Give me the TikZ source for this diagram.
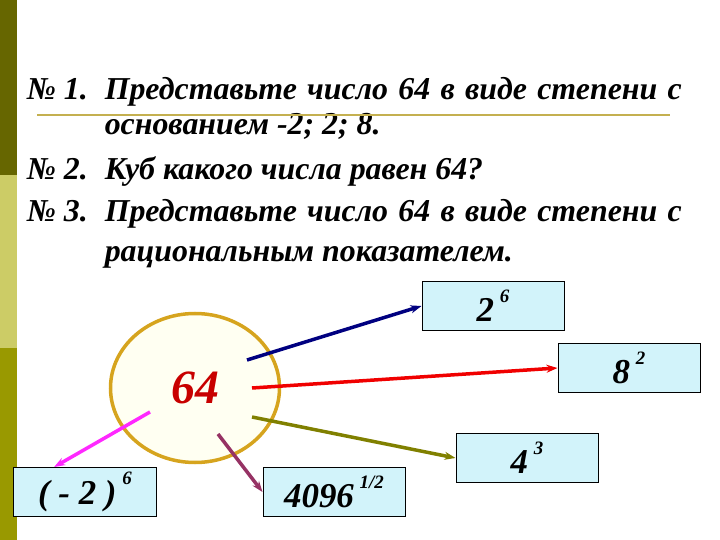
\documentclass[tikz,border=0pt]{standalone}
\usepackage{fontspec}
\setmainfont{Liberation Serif}
\usetikzlibrary{arrows.meta, shapes.geometric}

\definecolor{barDark}{RGB}{102,102,0}
\definecolor{barLight}{RGB}{204,204,102}
\definecolor{barMid}{RGB}{153,153,0}
\definecolor{ruleGold}{RGB}{196,176,80}
\definecolor{boxFill}{RGB}{210,243,250}
\definecolor{ringGold}{RGB}{214,164,30}
\definecolor{ringFill}{RGB}{255,255,242}
\definecolor{numRed}{RGB}{200,0,0}
\definecolor{arrNavy}{RGB}{0,0,128}
\definecolor{arrRed}{RGB}{240,0,0}
\definecolor{arrOlive}{RGB}{128,128,0}
\definecolor{arrPink}{RGB}{255,40,255}
\definecolor{arrPlum}{RGB}{150,50,100}

\newcommand{\pw}[2]{#1\,\raisebox{0.55em}{\fontsize{19}{19}\selectfont #2}}

\begin{document}
\begin{tikzpicture}[
            x = 1bp, y = -1bp, % pixel grid, y runs down
            > = {Stealth[length=11bp, width=8bp]}, % arrow head style
            line width = 3.5bp
        ]

        \tikzstyle{task}=[
            anchor = base west,
            inner sep = 0pt,
            font = \fontsize{32}{32}\selectfont\bfseries\itshape
        ]
        \tikzstyle{numbox}=[
            draw = black,
            line width = 1bp,
            fill = boxFill,
            minimum width = 142bp,
            minimum height = 49bp,
            inner sep = 0pt,
            font = \fontsize{35}{35}\selectfont\bfseries\itshape
        ]

        \useasboundingbox (0,0) rectangle (720,540);

        % left stripe
        \fill[barDark] (0,0) rectangle (17,175);
        \fill[barLight] (0,175) rectangle (17,348);
        \fill[barMid] (0,348) rectangle (17,540);

        % tasks
        \node[task] (n1) at (25,100) {№ 1.};
        \node[task] (t1) at (103,100) {\makebox[577bp][s]{Представьте число 64 в виде степени с}};
        \node[task] (t1b) at (103,135) {основанием -2; 2; 8.};
        \node[task] (n2) at (25,180) {№ 2.};
        \node[task] (t2) at (103,180) {Куб какого числа равен 64?};
        \node[task] (n3) at (25,222) {№ 3.};
        \node[task] (t3) at (103,222) {\makebox[577bp][s]{Представьте число 64 в виде степени с}};
        \node[task] (t3b) at (103,262) {рациональным показателем.};
        \draw[ruleGold, line width=2bp] (37,115) -- (670,115);

        % the number and its powers
        \node[ellipse, draw=ringGold, line width=3.5bp, fill=ringFill,
              minimum width=169bp, minimum height=149bp, inner sep=0pt,
              text=numRed, font=\fontsize{48}{48}\selectfont\bfseries\itshape]
              (n64) at (195,388) {64};

        \node[numbox] (b26) at (493,306) {\pw{2}{6}};
        \node[numbox] (b82) at (629,368) {\pw{8}{2}};
        \node[numbox] (b43) at (527,458) {\pw{4}{3}};
        \node[numbox] (b4096) at (334,492) {\pw{4096}{1/2}};
        \node[numbox] (bm26) at (85,492) {\pw{( - 2 )}{6}};

        \coordinate (s26) at (247,360);
        \coordinate (s82) at (252,388);
        \coordinate (s43) at (252,417);
        \coordinate (sm26) at (150,412);
        \coordinate (s4096) at (218,434);

        \draw[->, arrNavy] (s26) -- (b26.west);
        \draw[->, arrRed] (s82) -- (b82.west);
        \draw[->, arrOlive] (s43) -- (b43.west);
        \draw[->, arrPink] (sm26) -- (bm26.141);
        \draw[->, arrPlum] (s4096) -- (b4096.west);

    \end{tikzpicture}
\end{document}
